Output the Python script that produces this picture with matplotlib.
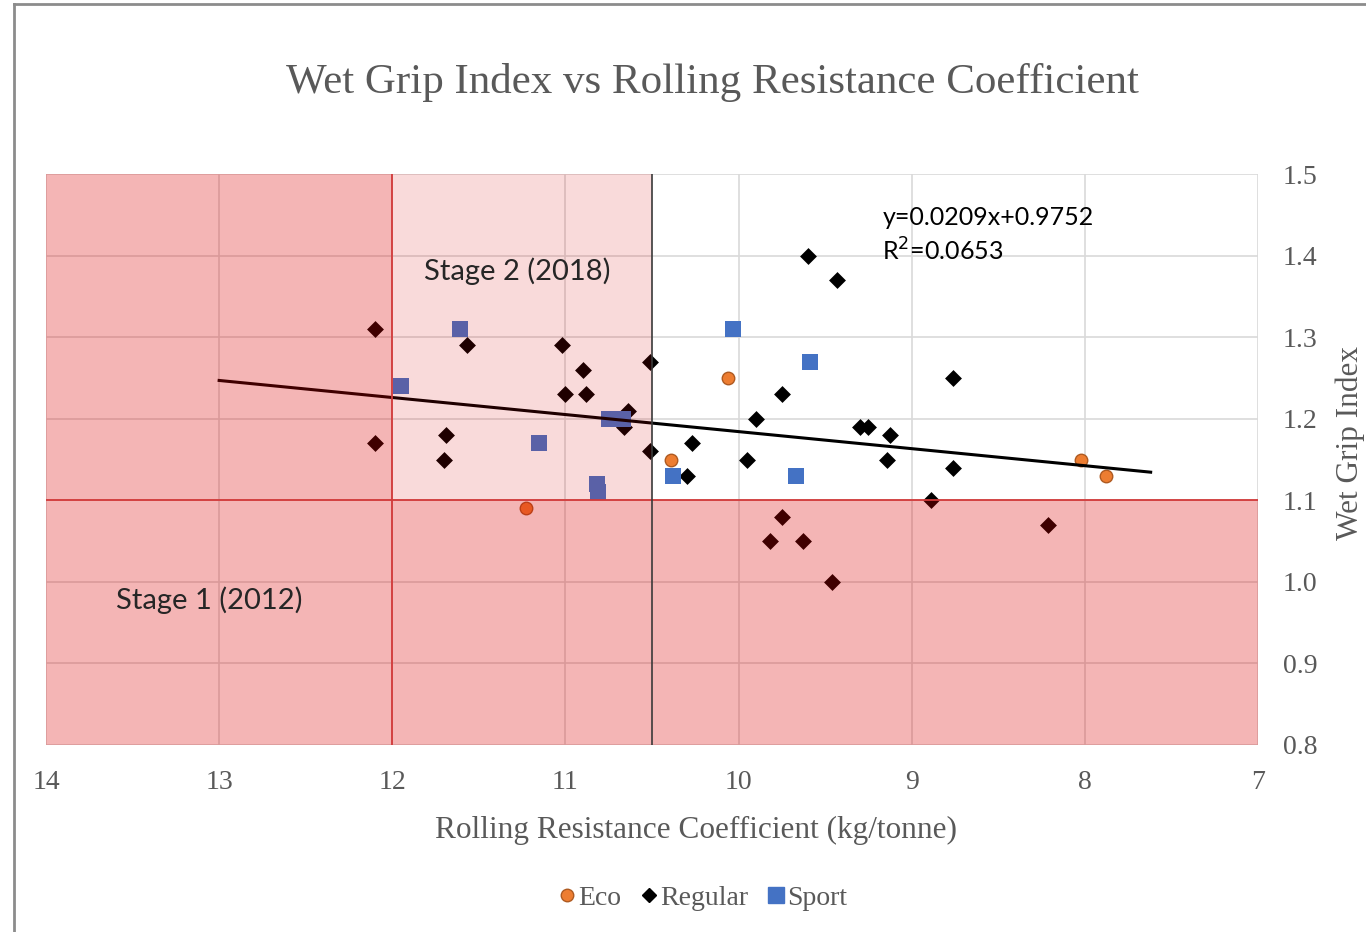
import numpy as np
import matplotlib
matplotlib.use("Agg")
import matplotlib.pyplot as plt
from matplotlib.patches import Polygon, Rectangle
from matplotlib.lines import Line2D

# Tyre measurements: rolling resistance (kg/tonne) and wet grip index
eco_rrc = [10.06, 10.39, 11.23, 8.02, 7.88]
eco_wgi = [1.25, 1.15, 1.09, 1.15, 1.13]

sport_rrc = [11.61, 11.95, 11.15, 10.75, 10.67, 10.82, 10.81, 10.38, 10.03, 9.59, 9.67]
sport_wgi = [1.31, 1.24, 1.17, 1.20, 1.20, 1.12, 1.11, 1.13, 1.31, 1.27, 1.13]

regular_rrc = [12.10, 12.10, 11.69, 11.70, 11.57, 11.02, 10.90, 11.00, 10.88, 10.64,
               10.66, 10.51, 10.51, 10.27, 10.30, 9.60, 9.43, 9.75, 9.90, 9.95,
               9.30, 9.25, 9.125, 9.14, 8.76, 8.76, 8.89, 8.21, 9.63, 9.46,
               9.75, 9.82]
regular_wgi = [1.31, 1.17, 1.18, 1.15, 1.29, 1.29, 1.26, 1.23, 1.23, 1.21,
               1.19, 1.27, 1.16, 1.17, 1.13, 1.40, 1.37, 1.23, 1.20, 1.15,
               1.19, 1.19, 1.18, 1.15, 1.25, 1.14, 1.10, 1.07, 1.05, 1.00,
               1.08, 1.05]

# Linear trend reported for the whole sample
trend_slope = 0.0209
trend_intercept = 0.9752
trend_r2 = 0.0653
trend_x = [13.0, 7.62]

x_ticks = [14, 13, 12, 11, 10, 9, 8, 7]
y_ticks = [0.8, 0.9, 1.0, 1.1, 1.2, 1.3, 1.4, 1.5]

# Label limits
stage1_rrc = 12.0
stage2_rrc = 10.5
min_wgi = 1.1

W, H = 1366, 932
fig = plt.figure(figsize=(W / 100, H / 100), dpi=100)
fig.patch.set_facecolor("white")

serif = ["Liberation Serif", "DejaVu Serif"]
sans = ["Lato", "DejaVu Sans"]
grey_txt = "#595959"

ax = fig.add_axes([46 / W, 1 - 745 / H, (1258 - 46) / W, (745 - 174) / H])
ax.set_xlim(14, 7)
ax.set_ylim(0.8, 1.5)
ax.set_facecolor("white")

ax.set_xticks(x_ticks)
ax.set_xticklabels([f"{v:d}" for v in x_ticks])
ax.set_yticks(y_ticks)
ax.set_yticklabels([f"{v:.1f}" for v in y_ticks])
ax.yaxis.tick_right()
ax.tick_params(axis="both", length=0, colors=grey_txt, labelsize=20)
ax.tick_params(axis="x", pad=18)
ax.tick_params(axis="y", pad=18)
for lab in ax.get_xticklabels() + ax.get_yticklabels():
    lab.set_fontfamily(serif)
ax.grid(True, color="#d9d9d9", linewidth=1.2, zorder=0)
for s in ax.spines.values():
    s.set_visible(False)

# Points
ax.scatter(regular_rrc, regular_wgi, marker="D", s=8.6 ** 2, color="black",
           linewidths=0, zorder=3)
ax.scatter(sport_rrc, sport_wgi, marker="s", s=11.5 ** 2, color="#4472C4",
           linewidths=0, zorder=3)
ax.scatter(eco_rrc, eco_wgi, marker="o", s=9.0 ** 2, color="#ED7D31",
           edgecolors="#AE5A21", linewidths=1.0, zorder=3)

# Trend line
tx = np.array(trend_x)
ax.plot(tx, trend_slope * tx + trend_intercept, color="black", linewidth=2.2, zorder=4)

# Shaded label zones drawn over the data
red = (220 / 255, 0, 0)
zone1 = Polygon([(14, 0.8), (14, 1.5), (stage1_rrc, 1.5), (stage1_rrc, min_wgi),
                 (7, min_wgi), (7, 0.8)], closed=True, facecolor=red,
                alpha=0.29, edgecolor="none", zorder=5)
ax.add_patch(zone1)
zone2 = Rectangle((stage2_rrc, min_wgi), stage1_rrc - stage2_rrc, 1.5 - min_wgi,
                  facecolor=red, alpha=0.145, edgecolor="none", zorder=5)
ax.add_patch(zone2)

ax.axvline(stage1_rrc, color="#d23a3a", linewidth=1.3, zorder=6)
ax.axhline(min_wgi, color="#d23a3a", linewidth=1.3, zorder=6)
ax.axvline(stage2_rrc, color="#3a3a3a", linewidth=1.2, zorder=6)

ax.text(11.28, 1.381, "Stage 2 (2018)", fontsize=21, family=sans, color="#262626",
        ha="center", va="center", zorder=7)
ax.text(13.06, 0.977, "Stage 1 (2012)", fontsize=21, family=sans, color="#262626",
        ha="center", va="center", zorder=7)
ax.text(9.17, 1.447, f"y={trend_slope}x+{trend_intercept}", fontsize=18, family=sans,
        color="black", ha="left", va="center", zorder=7)
ax.text(9.17, 1.405, f"R$^2$={trend_r2}", fontsize=18, family=sans,
        color="black", ha="left", va="center", zorder=7)

# Titles
fig.text(712 / W, 1 - 83 / H, "Wet Grip Index vs Rolling Resistance Coefficient",
         fontsize=31, family=serif, color=grey_txt, ha="center", va="center")
fig.text(696 / W, 1 - 830 / H, "Rolling Resistance Coefficient (kg/tonne)",
         fontsize=22.5, family=serif, color=grey_txt, ha="center", va="center")
fig.text(1365 / W, 1 - 443 / H, "Wet Grip Index", rotation=90,
         fontsize=22.5, family=serif, color=grey_txt, ha="right", va="center")

# Legend
handles = [
    Line2D([], [], marker="o", linestyle="none", markersize=9, markerfacecolor="#ED7D31",
           markeredgecolor="#AE5A21", markeredgewidth=1.0),
    Line2D([], [], marker="D", linestyle="none", markersize=7, color="black"),
    Line2D([], [], marker="s", linestyle="none", markersize=12, color="#4472C4"),
]
fig.legend(handles, ["Eco", "Regular", "Sport"], loc="center",
           bbox_to_anchor=(703 / W, 1 - 898 / H), ncol=3, frameon=False,
           prop={"family": serif, "size": 20}, labelcolor=grey_txt,
           handlelength=0.6, handletextpad=0.1, columnspacing=0.7)

# Chart frame
fig.add_artist(Line2D([14 / W, 14 / W], [0, 1 - 4 / H], color="#8c8c8c", linewidth=2,
                      transform=fig.transFigure))
fig.add_artist(Line2D([14 / W, 1], [1 - 4 / H, 1 - 4 / H], color="#8c8c8c", linewidth=2,
                      transform=fig.transFigure))

fig.savefig("out.png", dpi=100, facecolor="white")
